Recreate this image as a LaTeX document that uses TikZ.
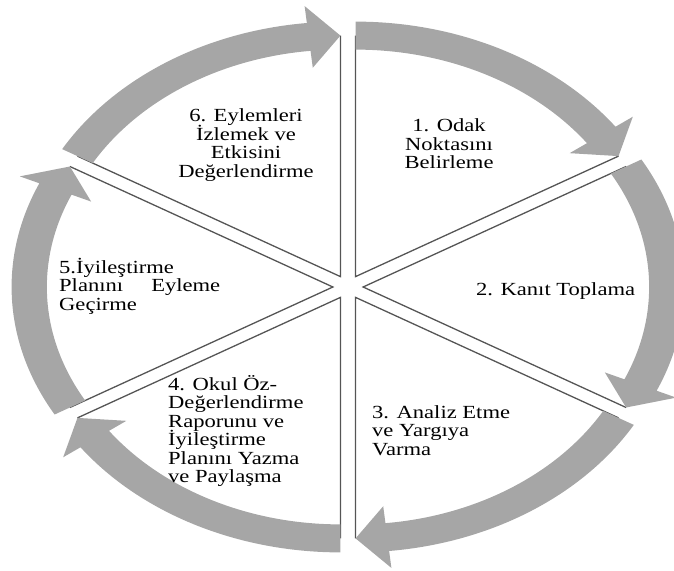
\documentclass[tikz,border=0pt]{standalone}
\usepackage{fontspec}
\setmainfont{Liberation Serif}[FakeStretch=1.22]
\newcommand\leftlines[1]{\vtop{\baselineskip=18.5pt\lineskiplimit=-30pt\lineskip=0pt\halign{##\hfil\cr#1\crcr}}}
\newcommand\centerlines[1]{\vtop{\baselineskip=18.5pt\lineskiplimit=-30pt\lineskip=0pt\halign{\hfil##\hfil\cr#1\crcr}}}
\definecolor{arrowgray}{RGB}{166,166,166}
\definecolor{linegray}{RGB}{85,85,85}
\begin{document}
\begin{tikzpicture}[x=1pt,y=1pt,
  sepline/.style={draw=linegray,line width=1.3pt},
  arcarrow/.style={fill=arrowgray},
  txt/.style={font=\fontsize{18.5}{18.5}\selectfont,inner sep=0pt,anchor=base}]
\useasboundingbox (-348,-283) rectangle (326,287);
\begin{scope}[xscale=1.26]
  \foreach \s in {90,30,-30,-90,-150,-210} {
    \begin{scope}[shift={(\s-30:12)}]
      \draw[sepline] (\s:241) -- (0,0) -- (\s-60:241);
    \end{scope}
  }
  \foreach \s in {90,30,-30,-90,-150,-210} {
    \begin{scope}[shift={(\s-30:12)}]
      \fill[arcarrow] (\s:227) arc[start angle=\s,end angle=\s-54,radius=227]
        -- (\s-54:210) -- (\s-60:241) -- (\s-54:272) -- (\s-54:255)
        arc[start angle=\s-54,end angle=\s,radius=255] -- cycle;
    \end{scope}
  }
\end{scope}
\node[txt] (t6) at (-102,165) {\centerlines{6. Eylemleri\cr İzlemek ve\cr Etkisini\cr Değerlendirme}};
\node[txt] (t1) at (101,155) {\centerlines{1. Odak\cr Noktasını\cr Belirleme}};
\node[txt,anchor=base west] (t2) at (128,-8) {2. Kanıt Toplama};
\node[txt,anchor=base west] (t3) at (24,-131) {\leftlines{3. Analiz Etme\cr ve Yargıya\cr Varma}};
\node[txt,anchor=base west] (t4) at (-180,-103) {\leftlines{4. Okul Öz-\cr Değerlendirme\cr Raporunu ve\cr İyileştirme\cr Planını Yazma\cr ve Paylaşma}};
\node[txt,anchor=base west] (t5) at (-289,14) {\leftlines{5.İyileştirme\cr \makebox[161pt][s]{Planını Eyleme}\cr Geçirme}};
\end{tikzpicture}
\end{document}
